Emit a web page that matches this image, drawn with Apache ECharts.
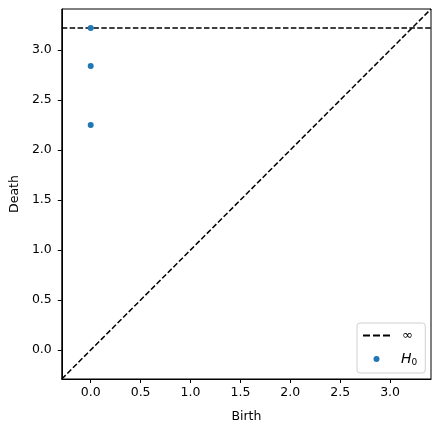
<!DOCTYPE html>
<html>
<head>
<meta charset="utf-8">
<script src="https://cdn.jsdelivr.net/npm/echarts@6/dist/echarts.min.js"></script>
<style>
  html, body { margin: 0; padding: 0; background: #fff; }
  #main { width: 440px; height: 432px; }
</style>
</head>
<body>
<div id="main"></div>
<script>
  // persistence diagram values
  const births = [0, 0, 0];
  const deaths = [2.25, 2.84, 3.22];
  const infValue = 3.22;
  const axisRange = [-0.29, 3.41];
  const tickValues = [0, 0.5, 1, 1.5, 2, 2.5, 3];

  const font = 'DejaVu Sans';
  const chart = echarts.init(document.getElementById('main'));

  const points = births.map((b, i) => [b, deaths[i]]);

  function valAxis(name, pos) {
    return {
      type: 'value',
      min: axisRange[0],
      max: axisRange[1],
      name: name,
      nameLocation: 'middle',
      nameGap: pos === 'x' ? 31 : 38,
      nameTextStyle: { fontFamily: font, fontSize: 12.5, color: '#000' },
      axisLine: { show: true, onZero: false, lineStyle: { color: '#000', width: 1 } },
      axisTick: { show: true, length: 4, customValues: tickValues, lineStyle: { color: '#000' } },
      axisLabel: {
        customValues: tickValues,
        margin: pos === 'x' ? 7 : 10,
        fontFamily: font, fontSize: 12.5, color: '#000',
        formatter: v => v.toFixed(1)
      },
      splitLine: { show: false }
    };
  }

  chart.setOption({
    animation: false,
    grid: {
      left: 61, top: 9, width: 370, height: 370,
      show: true, borderColor: '#000', borderWidth: 1
    },
    xAxis: valAxis('Birth', 'x'),
    yAxis: valAxis('Death', 'y'),
    legend: {
      orient: 'vertical',
      left: 357, top: 323,
      padding: [6, 8, 6, 5],
      itemWidth: 27, itemHeight: 6, itemGap: 10,
      backgroundColor: '#fff',
      borderColor: '#d0d0d0', borderWidth: 1, borderRadius: 3,
      data: [
        { name: '∞', itemStyle: { opacity: 0 }, lineStyle: { width: 2, type: [7, 3] } },
        { name: 'H0', icon: 'circle' }
      ],
      formatter: name => name === 'H0' ? '{i|H}{s|0}' : '{n|∞}',
      textStyle: {
        fontFamily: font, fontSize: 12, color: '#000',
        rich: {
          n: { fontFamily: font, fontSize: 13, padding: [0, 0, 0, 7] },
          i: { fontFamily: font, fontSize: 14, fontStyle: 'italic', padding: [0, 0, 0, 6] },
          s: { fontFamily: font, fontSize: 9, padding: [7, 0, 0, 0] }
        }
      }
    },
    series: [
      {
        type: 'line',
        name: 'diag',
        data: [[axisRange[0], axisRange[0]], [axisRange[1], axisRange[1]]],
        symbol: 'none',
        lineStyle: { color: '#000', width: 1.5, type: [5.5, 2.4] },
        z: 2
      },
      {
        type: 'line',
        name: '∞',
        data: [[axisRange[0], infValue], [axisRange[1], infValue]],
        symbol: 'none',
        itemStyle: { color: '#000' },
        lineStyle: { color: '#000', width: 1.5, type: [5.5, 2.4] },
        z: 2
      },
      {
        type: 'scatter',
        name: 'H0',
        data: points,
        symbolSize: 6,
        itemStyle: { color: '#1f77b4', opacity: 1 },
        z: 3
      }
    ]
  });
</script>
</body>
</html>
